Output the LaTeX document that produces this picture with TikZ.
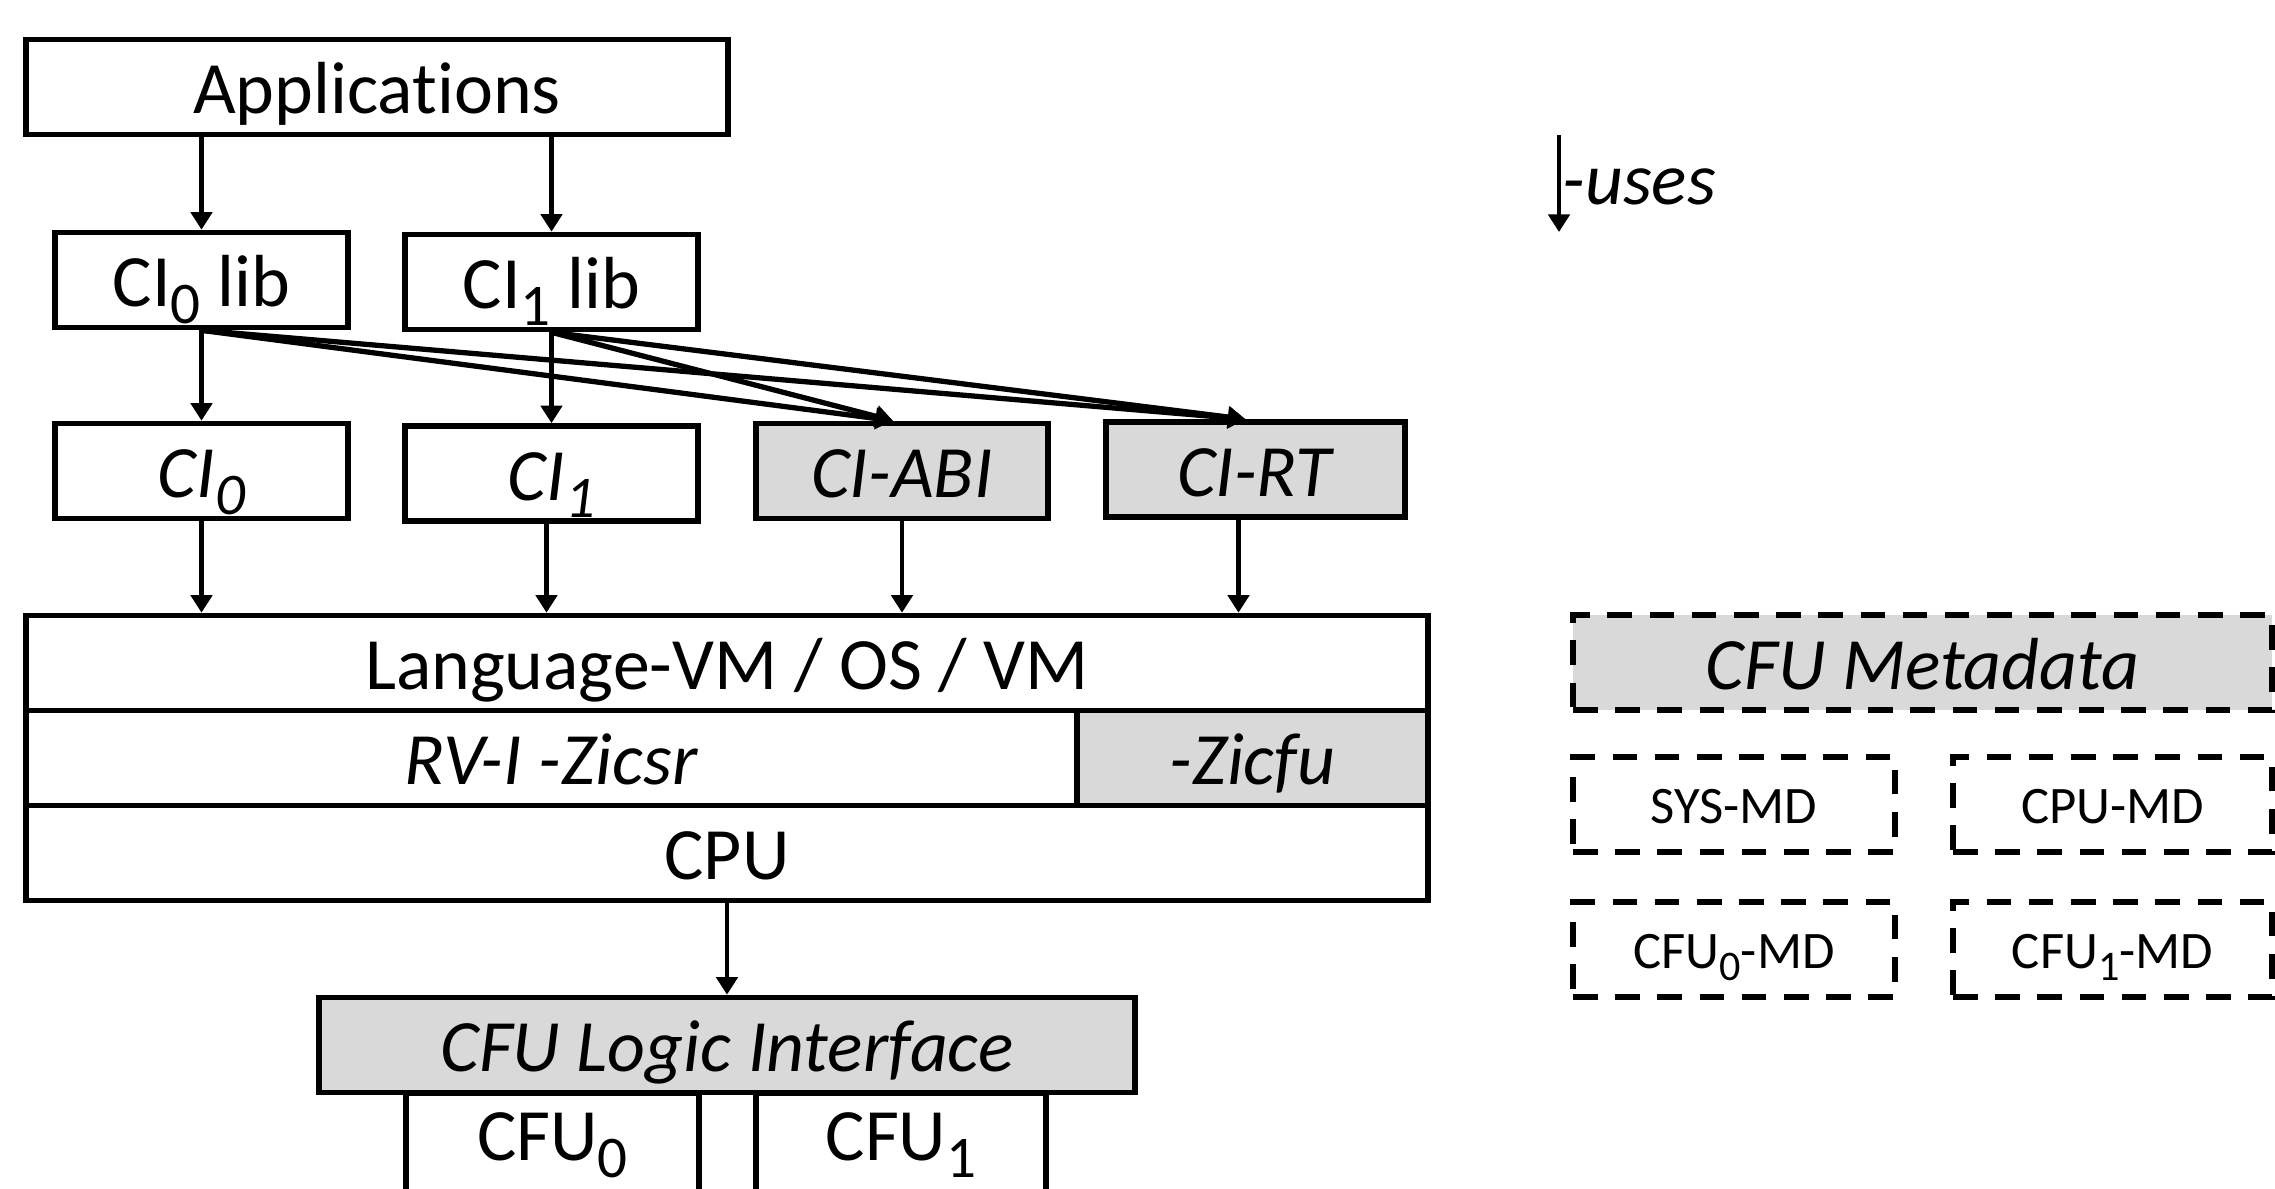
\documentclass[tikz,border=0pt]{standalone}
\usepackage{fontspec}
\setmainfont[Ligatures=NoCommon]{Carlito}
\usetikzlibrary{arrows.meta, positioning}
\definecolor{layerGray}{RGB}{217,217,217}
\newcommand{\lowsub}[1]{\raisebox{-0.23em}{\scalebox{0.8}{#1}}}

\begin{document}
\begin{tikzpicture}[
  blk/.style={draw, line width=1.6pt, minimum height=0.95cm, inner sep=0pt, text height=15.2pt, text depth=0pt, font=\fontsize{21}{25}\selectfont},
  grayblk/.style={blk, fill=layerGray},
  mdbox/.style={draw, dash pattern=on 7pt off 5pt, line width=1.8pt, minimum height=0.95cm, inner sep=0pt, text height=11pt, text depth=0pt, font=\fontsize{15}{18}\selectfont},
  usesarrow/.style={-{Triangle[length=5pt,width=6pt]}, line width=1.3pt},
  usesthick/.style={usesarrow, line width=1.5pt}
]
\useasboundingbox (0,0) rectangle (22.75,-11.88);

% software side
\node[blk, minimum width=7.02cm] (apps) at (3.77,-0.87) {Applications};
\node[blk, minimum width=2.93cm] (cilibA) at (2.015,-2.80) {CI\lowsub{0} lib};
\node[blk, minimum width=2.93cm] (cilibB) at (5.515,-2.82) {CI\lowsub{1} lib};
\node[blk, minimum width=2.93cm] (ciA) at (2.015,-4.71) {\textit{CI\lowsub{0}}};
\node[blk, minimum width=2.93cm] (ciB) at (5.515,-4.735) {\textit{CI\lowsub{1}}};
\node[grayblk, minimum width=2.92cm] (ciabi) at (9.02,-4.71) {\textit{CI-ABI}};
\node[grayblk, minimum width=2.99cm] (cirt) at (12.555,-4.695) {\textit{CI-RT}};

% layer stack
\node[blk, minimum width=14.02cm] (lvm) at (7.27,-6.63) {Language-VM / OS / VM};
\node[blk, minimum width=10.51cm] (rvi) at (5.515,-7.58) {\textit{RV-I -Zicsr}};
\node[grayblk, minimum width=3.51cm] (zicfu) at (12.525,-7.58) {\textit{-Zicfu}};
\node[blk, minimum width=14.02cm] (cpu) at (7.27,-8.53) {CPU};
\node[grayblk, minimum width=8.16cm] (cfuli) at (7.27,-10.45) {\textit{CFU Logic Interface}};
\node[blk, minimum width=2.93cm, minimum height=1.0cm, text depth=5pt] (cfuA) at (5.525,-11.43) {CFU\lowsub{0}};
\node[blk, minimum width=2.90cm, minimum height=1.0cm, text depth=5pt] (cfuB) at (9.01,-11.43) {CFU\lowsub{1}};

% uses
\draw[usesarrow] (apps.south -| cilibA) -- (cilibA);
\draw[usesarrow] (apps.south -| cilibB) -- (cilibB);
\draw[usesarrow] (cilibA) -- (ciA);
\draw[usesarrow] (cilibB) -- (ciB);
\draw[usesthick] (cilibA.south) -- ([xshift=-0.09cm]ciabi.north);
\draw[usesthick] (cilibA.south) -- ([xshift=-0.1cm]cirt.north);
\draw[usesthick] (cilibB.south) -- ([xshift=-0.09cm]ciabi.north);
\draw[usesthick] (cilibB.south) -- ([xshift=-0.1cm]cirt.north);
\draw[usesarrow] (ciA) -- (ciA |- lvm.north);
\draw[usesarrow] ([xshift=-0.05cm]ciB.south) -- ([xshift=-0.05cm]ciB.south |- lvm.north);
\draw[usesarrow] (ciabi) -- (ciabi |- lvm.north);
\draw[usesarrow] ([xshift=-0.17cm]cirt.south) -- ([xshift=-0.17cm]cirt.south |- lvm.north);
\draw[usesarrow] (cpu) -- (cfuli);

% legend
\coordinate (usetop) at (15.59,-1.35);
\coordinate (usebot) at (15.59,-2.32);
\draw[usesarrow, line width=1.4pt] (usetop) -- (usebot);
\node[anchor=west, inner sep=0pt, font=\fontsize{21}{25}\selectfont] (usestxt) at (15.62,-1.87) {\textit{-uses}};

% metadata
\node[mdbox, fill=layerGray, minimum width=6.99cm, text height=15.2pt, font=\fontsize{21}{25}\selectfont] (cfumd) at (19.225,-6.625) {\textit{CFU Metadata}};
\node[mdbox, minimum width=3.22cm] (sysmd) at (17.34,-8.045) {SYS-MD};
\node[mdbox, minimum width=3.19cm] (cpumd) at (21.125,-8.045) {CPU-MD};
\node[mdbox, minimum width=3.22cm] (cfuAmd) at (17.34,-9.495) {CFU\lowsub{0}-MD};
\node[mdbox, minimum width=3.19cm] (cfuBmd) at (21.125,-9.495) {CFU\lowsub{1}-MD};
\end{tikzpicture}
\end{document}
